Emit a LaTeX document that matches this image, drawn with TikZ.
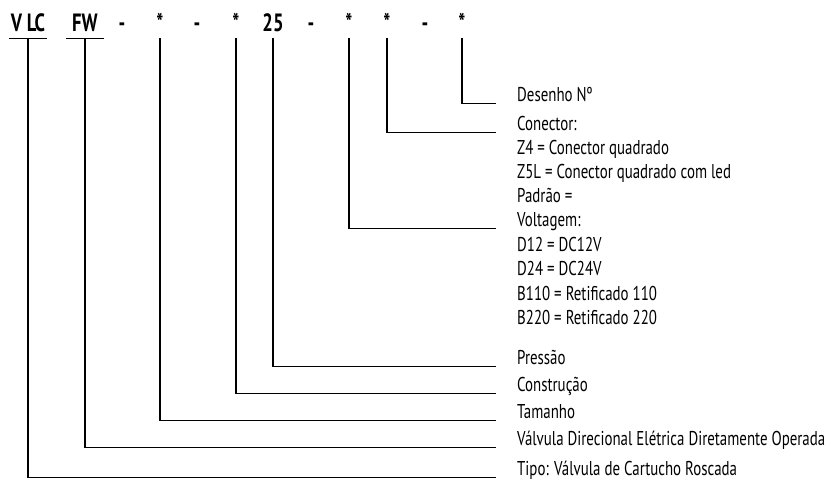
\documentclass[tikz,border=0pt]{standalone}
\usepackage{fontspec}
\setmainfont{PT Sans}[FakeStretch=0.745]
\usetikzlibrary{positioning}

\begin{document}
\begin{tikzpicture}[
  x=1pt, y=-1pt,
  every node/.style={inner sep=0pt},
  code/.style={anchor=base, font=\bfseries\fontsize{25}{25}\selectfont,
               text depth=7pt},
  lbl/.style={anchor=base west, font=\fontsize{20}{20}\selectfont,
              text depth=2pt},
  link/.style={line width=1.2pt, shorten >=21pt},
]
\useasboundingbox (0,0) rectangle (829,480);

% code row
\node[code, minimum width=38pt] (vlc) at (28,31) {V LC};
\node[code, minimum width=38pt] (fw) at (85,31) {FW};
\node[code] (d1) at (122,31) {-};
\node[code] (s1) at (160,31) {*};
\node[code] (d2) at (197,31) {-};
\node[code] (s2) at (236,31) {*};
\node[code] (p25) at (273,31) {25};
\node[code] (d3) at (311,31) {-};
\node[code] (s3) at (349,31) {*};
\node[code] (s4) at (387,31) {*};
\node[code] (d4) at (425,31) {-};
\node[code] (s5) at (462,31) {*};

\draw[line width=1.2pt] (vlc.south west) -- (vlc.south east);
\draw[line width=1.2pt] (fw.south west) -- (fw.south east);

% labels
\node[lbl] (desenho) at (517,101) {Desenho Nº};
\node[lbl] (conector) at (517,130) {Conector:};
\node[lbl] (voltagem) at (517,226) {Voltagem:};
\node[lbl] (pressao) at (517,364) {Pressão};
\node[lbl] (construcao) at (517,391) {Construção};
\node[lbl] (tamanho) at (517,418) {Tamanho};
\node[lbl] (valvula) at (517,445) {Válvula Direcional Elétrica Diretamente Operada};
\node[lbl] (tipo) at (517,475) {Tipo: Válvula de Cartucho Roscada};

\foreach \y/\t [count=\i] in {154/Z4 = Conector quadrado,
                              178/Z5L = Conector quadrado com led,
                              202/Padrão =}
  \node[lbl] (con\i) at (517,\y) {\t};
\foreach \y/\t [count=\i] in {251/D12 = DC12V, 275/D24 = DC24V,
                              300/B110 = Retificado 110,
                              324/B220 = Retificado 220}
  \node[lbl] (volt\i) at (517,\y) {\t};

% connectors
\draw[link] (s5.south) |- (desenho.south west);
\draw[link] (s4.south) |- (conector.south west);
\draw[link] (s3.south) |- (voltagem.south west);
\draw[link] (p25.south) |- (pressao.south west);
\draw[link] (s2.south) |- (construcao.south west);
\draw[link] (s1.south) |- (tamanho.south west);
\draw[link] (fw.south) |- (valvula.south west);
\draw[link] (vlc.south) |- (tipo.south west);
\end{tikzpicture}
\end{document}
